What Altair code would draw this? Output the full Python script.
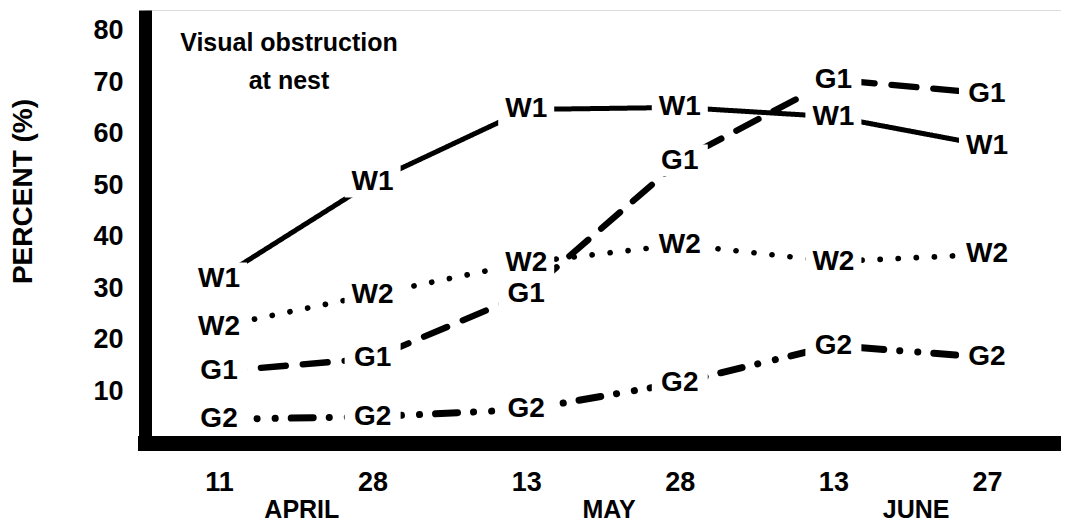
import altair as alt
import pandas as pd

# ---- data ----
days = ["11", "28", "13", "28", "13", "27"]
day_months = ["APRIL", "APRIL", "MAY", "MAY", "JUNE", "JUNE"]
series_names = ["W1", "W2", "G1", "G2"]
w1 = [31.9, 50.7, 64.7, 65.1, 63.3, 57.7]
w2 = [22.6, 28.8, 35.0, 38.5, 35.2, 36.6]
g1 = [13.9, 16.4, 29.0, 54.8, 70.5, 67.8]
g2 = [4.6, 5.1, 6.5, 11.7, 18.9, 16.6]
y_ticks = [10, 20, 30, 40, 50, 60, 70, 80]
title_lines = ["Visual obstruction", "at nest"]
y_title = "PERCENT (%)"

FONT = "Liberation Sans"

rows = []
for name, vals in zip(series_names, [w1, w2, g1, g2]):
    for i, v in enumerate(vals):
        rows.append({"series": name, "idx": i, "value": v})
df = pd.DataFrame(rows)

month_df = (
    pd.DataFrame({"month": day_months, "idx": list(range(len(days)))})
    .groupby("month", sort=False)["idx"].mean().reset_index()
)

x_scale = alt.Scale(domain=[-0.482, 5.482], nice=False, zero=False)
y_scale = alt.Scale(domain=[0, 84], nice=False, zero=False)

x_axis = alt.Axis(
    values=list(range(len(days))),
    labelExpr=f"{days}[datum.value]",
    title=None, ticks=False, grid=False,
    domainColor="black", domainWidth=15, domainCap="square",
    labelFont=FONT, labelFontSize=27, labelFontWeight="bold", labelColor="black",
    labelPadding=26, zindex=1,
)
y_axis = alt.Axis(
    values=y_ticks, title=y_title, ticks=False, grid=False,
    domainColor="black", domainWidth=13, domainCap="butt",
    labelFont=FONT, labelFontSize=27, labelFontWeight="bold", labelColor="black",
    labelPadding=22, zindex=1,
    titleFont=FONT, titleFontSize=28, titleFontWeight="bold", titleColor="black",
    titleAngle=270, titleAlign="center", titleBaseline="middle",
    titleX=-122, titleY=181, titleLimit=400,
)

base = alt.Chart(df).encode(
    x=alt.X("idx:Q", scale=x_scale, axis=x_axis),
    y=alt.Y("value:Q", scale=y_scale, axis=y_axis),
)

lines = base.mark_line(color="black", strokeCap="round", strokeJoin="round").encode(
    strokeDash=alt.StrokeDash(
        "series:N",
        scale=alt.Scale(domain=series_names,
                        range=[[1, 0], [0.1, 18], [25, 17], [22, 16, 0.1, 18, 0.1, 16]]),
        legend=None,
    ),
    strokeWidth=alt.StrokeWidth(
        "series:N",
        scale=alt.Scale(domain=series_names, range=[5, 7, 5, 6]),
        legend=None,
    ),
)

boxes = base.mark_point(
    shape="M-1,-0.57L1,-0.57L1,0.57L-1,0.57Z", filled=True, color="white",
    opacity=1, size=3136, strokeWidth=0,
)

labels = base.mark_text(
    font=FONT, fontSize=28, fontWeight="bold", color="black",
    align="center", baseline="middle",
).encode(text="series:N")

note = alt.Chart(pd.DataFrame({"k": [0]})).mark_text(
    text=title_lines, font=FONT, fontSize=25, fontWeight="bold", color="black",
    align="center", baseline="middle", lineHeight=38,
).encode(x=alt.value(144), y=alt.value(33))

months = alt.Chart(month_df).mark_text(
    font=FONT, fontSize=25, fontWeight="bold", color="black",
    align="center", baseline="middle", dx=6,
).encode(
    x=alt.X("idx:Q", scale=x_scale, axis=x_axis),
    y=alt.value(500),
    text="month:N",
)

chart = alt.layer(lines, boxes, labels, note, months).properties(
    width=916, height=433,
    padding={"left": 137, "top": 2, "right": 0, "bottom": 79},
    autosize=alt.AutoSizeParams(type="none"),
).configure_view(stroke=None).configure(background="white")

chart.save("out.html", embed_options={"renderer": "svg", "actions": False})
